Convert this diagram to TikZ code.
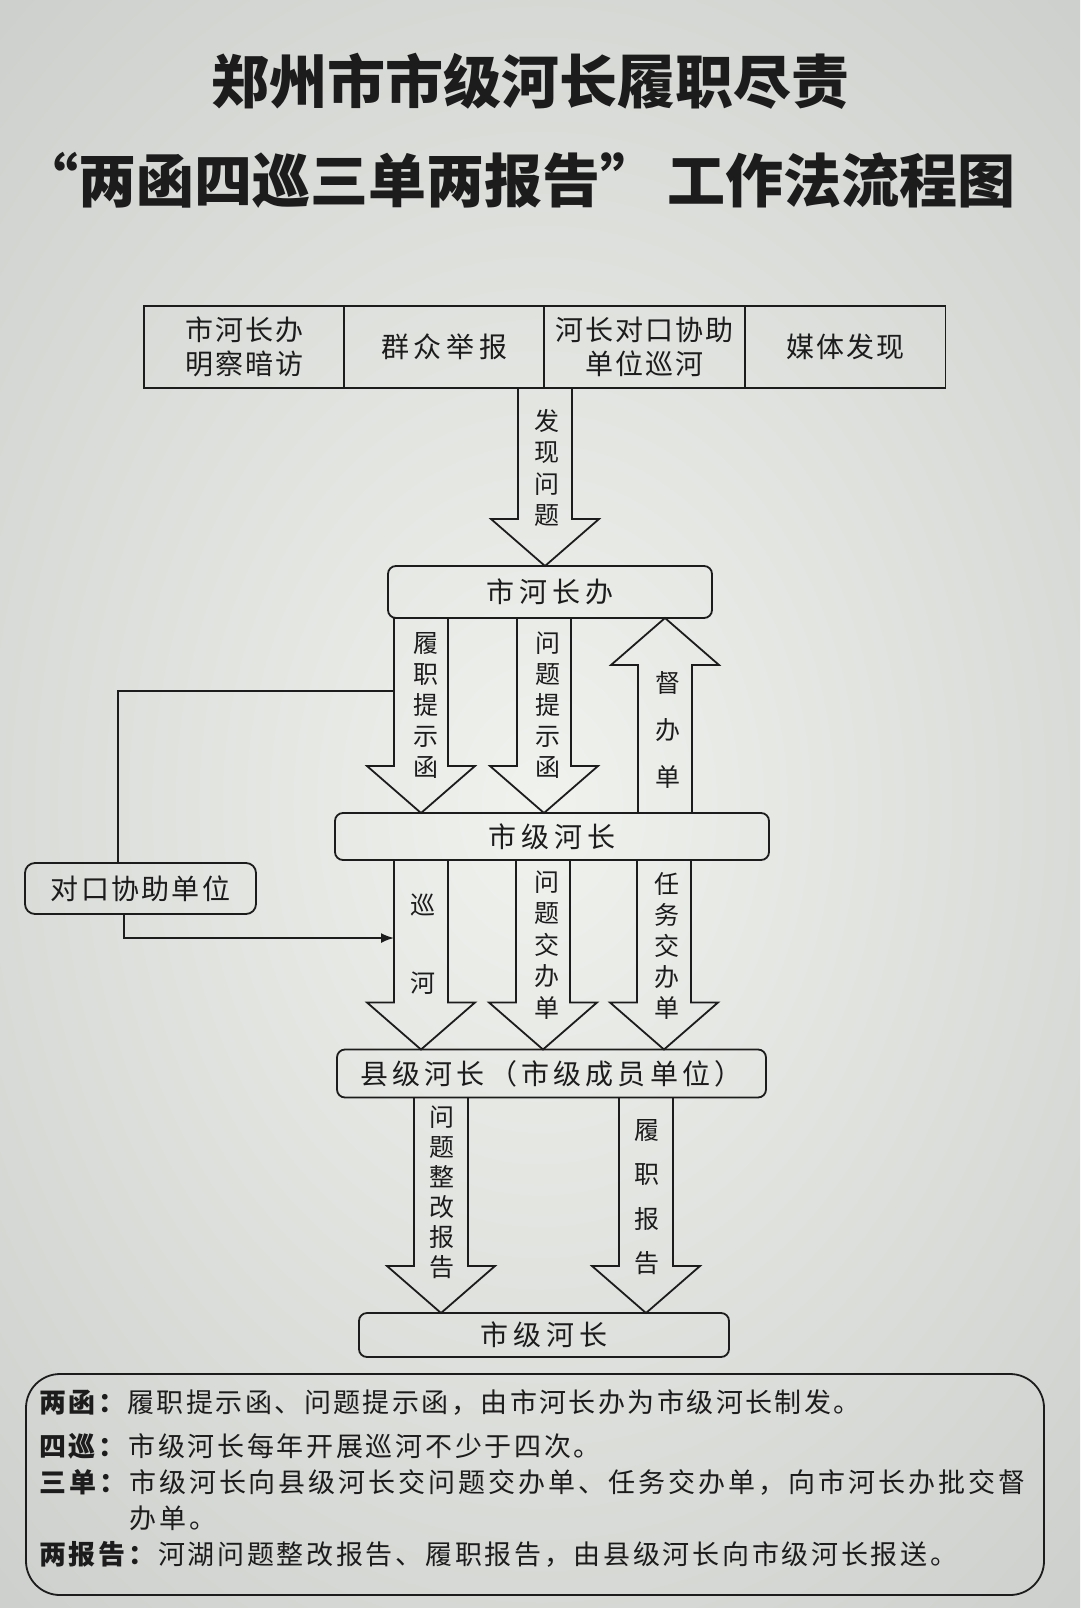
\documentclass[tikz,border=0pt]{standalone}
\usepackage{fontspec}
\setmainfont{Noto Sans CJK SC}
\usetikzlibrary{calc,arrows.meta}
\definecolor{ink}{HTML}{1C1C1C}
\definecolor{paperin}{HTML}{F0F2EE}
\definecolor{paperout}{HTML}{CDD0CC}
\newcommand\blkdown[3]{%
  \draw[blk] let \p1=(#2.south), \p2=(#3.north) in
    (#1-27,\y1) -- (#1-27,\y2+47) -- (#1-54,\y2+47) -- (#1,\y2) --
    (#1+54,\y2+47) -- (#1+27,\y2+47) -- (#1+27,\y1);}
\newcommand\blkup[3]{%
  \draw[blk] let \p1=(#2.north), \p2=(#3.south) in
    (#1-27,\y1) -- (#1-27,\y2-47) -- (#1-54,\y2-47) -- (#1,\y2) --
    (#1+54,\y2-47) -- (#1+27,\y2-47) -- (#1+27,\y1);}
\begin{document}
\begin{tikzpicture}[x=1pt,y=1pt,
  cell/.style={draw=ink, line width=1.8pt, anchor=north west, minimum width=200.5pt,
    minimum height=82pt, inner sep=0pt, outer sep=0pt, align=center, text=ink,
    font=\fontsize{28}{34}\selectfont\addfontfeature{LetterSpace=7}},
  rbox/.style={draw=ink, line width=1.8pt, rounded corners=8pt, inner sep=0pt,
    outer sep=0pt, text=ink},
  blk/.style={draw=ink, line width=1.8pt, line join=miter},
  vt/.style={align=center, inner sep=0pt, text=ink},
  lg/.style={anchor=west, inner sep=0pt, text=ink},
  conn/.style={draw=ink, line width=1.8pt},
  ttl/.style={text=ink, inner sep=0pt, font=\fontsize{58}{62}\selectfont\bfseries}
]
\useasboundingbox (0,0) rectangle (1080,-1608);
\begin{scope}
\clip (0,0) rectangle (1080,-1608);
\shade[inner color=paperin, outer color=paperout] (-260,260) rectangle (1340,-1868);
\end{scope}

% titles
\node[ttl] (t1) at (530,-81) {郑州市市级河长履职尽责};
\node[ttl] (t2) at (532,-180)
  {\makebox[30pt][r]{“}两函四巡三单两报告\makebox[68pt][l]{”}工作法流程图};

% top source row
\node[cell] (s1) at (144,-306) {市河长办\\明察暗访};
\node[cell] (s2) at (344,-306) {\addfontfeature{LetterSpace=17}群众举报};
\node[cell] (s3) at (544,-306) {河长对口协助\\单位巡河};
\node[cell] (s4) at (745,-306) {媒体发现};

% main boxes
\node[rbox, minimum width=324pt, minimum height=52pt,
  font=\fontsize{28}{34}\selectfont\addfontfeature{LetterSpace=17}] (hb) at (550,-592) {市河长办};
\node[rbox, minimum width=434pt, minimum height=47pt,
  font=\fontsize{28}{34}\selectfont\addfontfeature{LetterSpace=17}] (sj) at (552,-836.5) {市级河长};
\node[rbox, rounded corners=10pt, minimum width=231pt, minimum height=51pt,
  font=\fontsize{28}{34}\selectfont\addfontfeature{LetterSpace=8}] (dk) at (140.5,-888.5) {对口协助单位};
\node[rbox, minimum width=429pt, minimum height=48pt,
  font=\fontsize{28}{34}\selectfont\addfontfeature{LetterSpace=15}] (xj) at (551.5,-1073.5) {县级河长（市级成员单位）};
\node[rbox, minimum width=370pt, minimum height=44pt,
  font=\fontsize{28}{34}\selectfont\addfontfeature{LetterSpace=17}] (sj2) at (544,-1335) {市级河长};

% block arrows
\blkdown{545}{s2}{hb}
\blkdown{421}{hb}{sj}
\blkdown{544}{hb}{sj}
\blkup{665}{sj}{hb}
\blkdown{421}{sj}{xj}
\blkdown{543}{sj}{xj}
\blkdown{664}{sj}{xj}
\blkdown{441}{xj}{sj2}
\blkdown{646}{xj}{sj2}

% arrow labels
\node[vt, font=\fontsize{25}{31.5}\selectfont] (l1) at (547,-468) {发\\现\\问\\题};
\node[vt, font=\fontsize{25}{31}\selectfont] (l2) at (426,-705) {履\\职\\提\\示\\函};
\node[vt, font=\fontsize{25}{31}\selectfont] (l3) at (548,-705) {问\\题\\提\\示\\函};
\node[vt, font=\fontsize{25}{47}\selectfont] (l4) at (668,-730) {督\\办\\单};
\node[vt, font=\fontsize{25}{78}\selectfont] (l5) at (423,-944) {巡\\河};
\node[vt, font=\fontsize{25}{31.5}\selectfont] (l6) at (547,-945) {问\\题\\交\\办\\单};
\node[vt, font=\fontsize{25}{31}\selectfont] (l7) at (667,-946) {任\\务\\交\\办\\单};
\node[vt, font=\fontsize{25}{30}\selectfont] (l8) at (442,-1192) {问\\题\\整\\改\\报\\告};
\node[vt, font=\fontsize{25}{44.5}\selectfont] (l9) at (647,-1197) {履\\职\\报\\告};

% connectors with 对口协助单位
\coordinate (lz) at (394,-691);
\coordinate (xh) at (394,-938);
\draw[conn] (lz) -| ($(dk.north west)+(93,0)$);
\draw[conn, -{Latex[length=13pt,width=10pt]}] ($(dk.south west)+(99,0)$) |- (xh);

% legend
\node[draw=ink, line width=1.8pt, rounded corners=34pt, minimum width=1018pt,
  minimum height=221pt, inner sep=0pt, outer sep=0pt] (lgbox) at (535,-1484.5) {};
\node[lg, font=\fontsize{27}{30}\selectfont\addfontfeature{LetterSpace=9}] (g1) at (39,-1402)
  {\textbf{两函：}履职提示函、问题提示函，由市河长办为市级河长制发。};
\node[lg, font=\fontsize{27}{30}\selectfont\addfontfeature{LetterSpace=10}] (g2) at (39,-1446)
  {\textbf{四巡：}市级河长每年开展巡河不少于四次。};
\node[lg, font=\fontsize{27}{30}\selectfont\addfontfeature{LetterSpace=11}] (g3) at (39,-1482)
  {\textbf{三单：}市级河长向县级河长交问题交办单、任务交办单，向市河长办批交督};
\node[lg, font=\fontsize{27}{30}\selectfont\addfontfeature{LetterSpace=11}] (g4) at (129,-1518)
  {办单。};
\node[lg, font=\fontsize{27}{30}\selectfont\addfontfeature{LetterSpace=10}] (g5) at (39,-1554)
  {\textbf{两报告：}河湖问题整改报告、履职报告，由县级河长向市级河长报送。};
\end{tikzpicture}
\end{document}
